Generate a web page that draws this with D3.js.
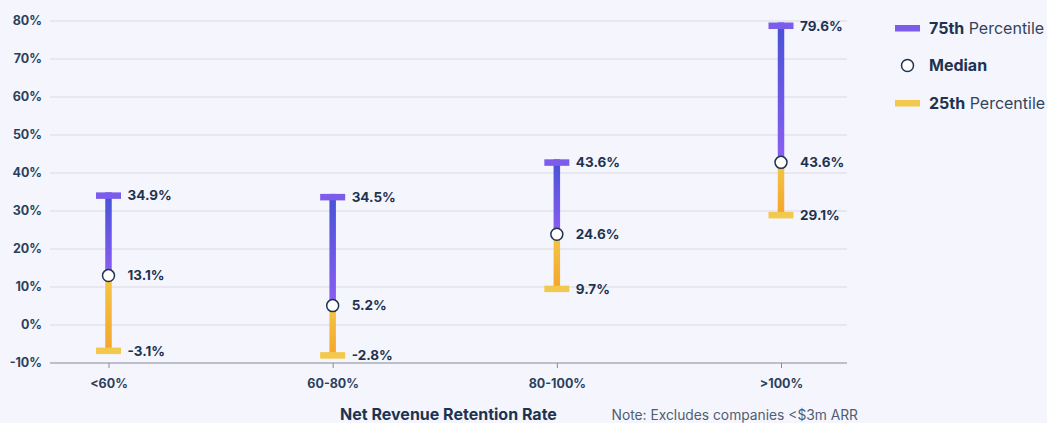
<!DOCTYPE html>
<html>
<head>
<meta charset="utf-8">
<script src="https://cdn.jsdelivr.net/npm/d3@7"></script>
<style>
  html, body { margin: 0; padding: 0; background: #f5f6fd; }
  svg { display: block; font-family: Inter, "Noto Sans", sans-serif; }
</style>
</head>
<body>
<svg id="chart" width="1047" height="423"></svg>
<script>
// categories and values (percent), as placed in the picture
const categories = ["<60%", "60-80%", "80-100%", ">100%"];
const p75 = [34.9, 34.5, 43.6, 79.6];
const median = [13.0, 5.1, 23.9, 42.8];
const p25 = [-6.6, -7.8, 9.7, 29.1];
// the labels the picture prints next to each mark
const p75Labels = ["34.9%", "34.5%", "43.6%", "79.6%"];
const medianLabels = ["13.1%", "5.2%", "24.6%", "43.6%"];
const p25Labels = ["-3.1%", "-2.8%", "9.7%", "29.1%"];
const yTicks = [-10, 0, 10, 20, 30, 40, 50, 60, 70, 80];

const svg = d3.select("#chart");
const plotLeft = 50, plotRight = 847;

const x = d3.scalePoint()
  .domain(categories)
  .range([108.5, 781]);

const y = d3.scaleLinear()
  .domain([-10, 80])
  .range([363, 21]);

const ink = "#1e3350";

// gradients for the stems
const defs = svg.append("defs");
const gTop = defs.append("linearGradient").attr("id", "gradTop")
  .attr("x1", 0).attr("y1", 0).attr("x2", 0).attr("y2", 1);
gTop.append("stop").attr("offset", "0%").attr("stop-color", "#4552d6");
gTop.append("stop").attr("offset", "100%").attr("stop-color", "#8c5ef4");
const gBot = defs.append("linearGradient").attr("id", "gradBot")
  .attr("x1", 0).attr("y1", 0).attr("x2", 0).attr("y2", 1);
gBot.append("stop").attr("offset", "0%").attr("stop-color", "#f3c748");
gBot.append("stop").attr("offset", "100%").attr("stop-color", "#f5a52a");

// gridlines
svg.append("g")
  .selectAll("line")
  .data(yTicks.filter(d => d > -10))
  .enter()
  .append("line")
  .attr("x1", plotLeft)
  .attr("x2", plotRight)
  .attr("y1", d => y(d))
  .attr("y2", d => y(d))
  .attr("stroke", "#d9d9e1")
  .attr("stroke-width", 1);

// y axis labels
svg.append("g")
  .selectAll("text")
  .data(yTicks)
  .enter()
  .append("text")
  .attr("x", 42)
  .attr("y", d => y(d))
  .attr("dy", "0.35em")
  .attr("text-anchor", "end")
  .attr("font-size", 12.5)
  .attr("font-weight", 700)
  .attr("fill", "#2b3f5c")
  .text(d => d + "%");

// x axis
const xAxis = svg.append("g")
  .attr("transform", "translate(0," + y(-10) + ")")
  .call(d3.axisBottom(x).tickSize(5).tickPadding(11));
xAxis.select(".domain").attr("d", "M" + plotLeft + ",0H" + plotRight).attr("stroke", "#858a94");
xAxis.selectAll(".tick line").attr("stroke", "#858a94");
xAxis.selectAll(".tick text")
  .attr("font-family", "Inter, sans-serif")
  .attr("font-size", 12.5)
  .attr("font-weight", 700)
  .attr("fill", "#2b3f5c");

const idx = d3.range(categories.length);
const g = svg.append("g");

// upper stem
g.selectAll("rect.top")
  .data(idx)
  .enter()
  .append("rect")
  .attr("x", i => x(categories[i]) - 3.25)
  .attr("y", i => y(p75[i]))
  .attr("width", 6.5)
  .attr("height", i => y(median[i]) - y(p75[i]))
  .attr("fill", "url(#gradTop)");

// lower stem
g.selectAll("rect.bot")
  .data(idx)
  .enter()
  .append("rect")
  .attr("x", i => x(categories[i]) - 3.25)
  .attr("y", i => y(median[i]))
  .attr("width", 6.5)
  .attr("height", i => y(p25[i]) - y(median[i]))
  .attr("fill", "url(#gradBot)");

// caps
g.selectAll("rect.cap75")
  .data(idx)
  .enter()
  .append("rect")
  .attr("x", i => x(categories[i]) - 12.5)
  .attr("y", i => y(p75[i]))
  .attr("width", 25)
  .attr("height", 6.5)
  .attr("fill", "#7b5ceb");

g.selectAll("rect.cap25")
  .data(idx)
  .enter()
  .append("rect")
  .attr("x", i => x(categories[i]) - 12.5)
  .attr("y", i => y(p25[i]) - 2.5)
  .attr("width", 25)
  .attr("height", 6.5)
  .attr("fill", "#f2c94c");

// median points
g.selectAll("circle")
  .data(idx)
  .enter()
  .append("circle")
  .attr("cx", i => x(categories[i]))
  .attr("cy", i => y(median[i]))
  .attr("r", 6)
  .attr("fill", "#ffffff")
  .attr("stroke", ink)
  .attr("stroke-width", 1.5);

// value labels
function labels(vals, texts, dy) {
  g.selectAll(null)
    .data(idx)
    .enter()
    .append("text")
    .attr("x", i => x(categories[i]) + 19)
    .attr("y", i => y(vals[i]) + dy)
    .attr("dy", "0.35em")
    .attr("font-size", 13.5)
    .attr("font-weight", 700)
    .attr("fill", ink)
    .text(i => texts[i]);
}
labels(p75, p75Labels, 3.3);
labels(median, medianLabels, 0);
labels(p25, p25Labels, 0.8);

// axis title and note
svg.append("text")
  .attr("x", (plotLeft + plotRight) / 2)
  .attr("y", 420)
  .attr("text-anchor", "middle")
  .attr("font-size", 16)
  .attr("font-weight", 700)
  .attr("fill", ink)
  .text("Net Revenue Retention Rate");

svg.append("text")
  .attr("x", 858)
  .attr("y", 420)
  .attr("text-anchor", "end")
  .attr("font-size", 13.8)
  .attr("fill", "#4f5d72")
  .text("Note: Excludes companies <$3m ARR");

// legend
const legend = svg.append("g");
legend.append("rect").attr("x", 895).attr("y", 25).attr("width", 25).attr("height", 6.5).attr("fill", "#7b5ceb");
legend.append("circle").attr("cx", 907.5).attr("cy", 65.5).attr("r", 6).attr("fill", "#fff").attr("stroke", ink).attr("stroke-width", 1.5);
legend.append("rect").attr("x", 895).attr("y", 100).attr("width", 25).attr("height", 6.5).attr("fill", "#f2c94c");

const legendItems = [["75th", " Percentile", 28.5], ["Median", "", 65.5], ["25th", " Percentile", 103.5]];
legendItems.forEach(([b, r, yy]) => {
  const t = legend.append("text")
    .attr("x", 929)
    .attr("y", yy)
    .attr("dy", "0.35em")
    .attr("font-size", 16)
    .attr("fill", ink);
  t.append("tspan").attr("font-weight", 700).text(b);
  if (r) t.append("tspan").attr("fill", "#33435c").text(r);
});
</script>
</body>
</html>
